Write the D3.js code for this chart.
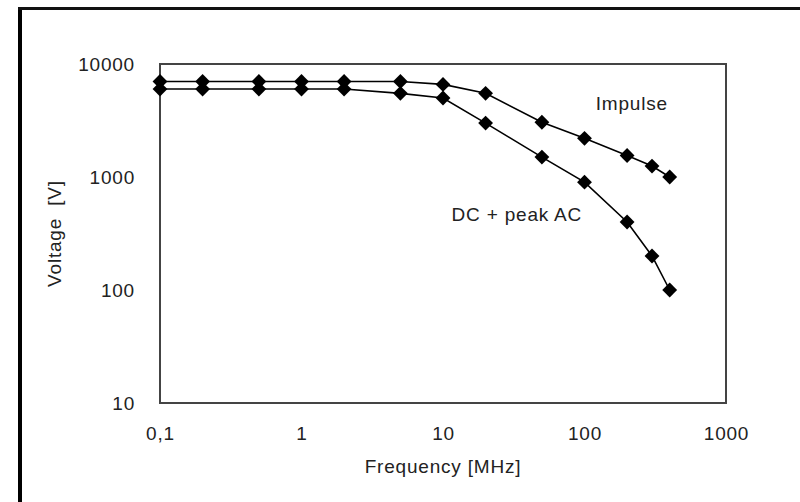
<!DOCTYPE html>
<html><head><meta charset="utf-8">
<script src="https://cdn.jsdelivr.net/npm/d3@7"></script>
<style>body{margin:0;background:#fff}svg{display:block}</style>
</head><body>
<script>
const frequencies = [0.1, 0.2, 0.5, 1, 2, 5, 10, 20, 50, 100, 200, 300, 400];
const impulse = [7000, 7000, 7000, 7000, 7000, 7000, 6600, 5500, 3050, 2200, 1550, 1250, 1000];
const dcPeakAC = [6000, 6000, 6000, 6000, 6000, 5500, 5000, 3000, 1500, 900, 400, 200, 100];
const xTicks = [0.1, 1, 10, 100, 1000];
const xTickLabels = ["0,1", "1", "10", "100", "1000"];
const yTicks = [10, 100, 1000, 10000];
const yTickLabels = ["10", "100", "1000", "10000"];
const annotations = [
  {text: "Impulse", f: 120, v: 4500},
  {text: "DC + peak AC", f: 11.5, v: 470}
];

const W = 800, H = 502;
const m = {l: 160, r: 74, t: 64, b: 99};
const font = "Liberation Sans, Arial, sans-serif";
const fs = 19, ls = "0.8px", ink = "#222";
const svg = d3.select("body").append("svg").attr("width", W).attr("height", H);

// outer frame (left and top visible)
svg.append("line").attr("x1", 20).attr("x2", 20).attr("y1", 7).attr("y2", H).attr("stroke", "#000").attr("stroke-width", 4);
svg.append("line").attr("x1", 18).attr("x2", W).attr("y1", 8.5).attr("y2", 8.5).attr("stroke", "#111").attr("stroke-width", 3);

const x = d3.scaleLog().domain([0.1, 1000]).range([m.l, W - m.r]);
const y = d3.scaleLog().domain([10, 10000]).range([H - m.b, m.t]);

// plot border
svg.append("rect").attr("x", x(0.1)).attr("y", y(10000)).attr("width", x(1000) - x(0.1)).attr("height", y(10) - y(10000))
  .attr("fill", "none").attr("stroke", "#444").attr("stroke-width", 2);

const styleText = sel => sel.attr("font-family", font).attr("font-size", fs).attr("fill", ink).style("letter-spacing", ls);

const xAxis = svg.append("g").attr("transform", `translate(0,${y(10)})`)
  .call(d3.axisBottom(x).tickValues(xTicks).tickSize(0).tickPadding(24).tickFormat((d, i) => xTickLabels[i]));
xAxis.select(".domain").remove();
styleText(xAxis.selectAll("text"));

const yAxis = svg.append("g").attr("transform", `translate(${x(0.1)},0.5)`)
  .call(d3.axisLeft(y).tickValues(yTicks).tickSize(0).tickPadding(25).tickFormat((d, i) => yTickLabels[i]));
yAxis.select(".domain").remove();
styleText(yAxis.selectAll("text"));

// axis titles
styleText(svg.append("text").attr("x", (x(0.1) + x(1000)) / 2).attr("y", 473).attr("text-anchor", "middle").text("Frequency [MHz]"));
styleText(svg.append("text").attr("transform", `translate(61,${(y(10) + y(10000)) / 2}) rotate(-90)`).attr("text-anchor", "middle")
  .attr("xml:space", "preserve").text("Voltage  [V]"));

// series
const series = [impulse, dcPeakAC];
const line = d3.line().x((d, i) => x(frequencies[i])).y(d => y(d));
const diamond = d3.symbol().type(d3.symbolSquare).size(110);
series.forEach(vals => {
  svg.append("path").attr("d", line(vals)).attr("fill", "none").attr("stroke", "#000").attr("stroke-width", 1.6);
  svg.append("g").selectAll("path").data(vals).join("path")
    .attr("d", diamond)
    .attr("transform", (d, i) => `translate(${x(frequencies[i])},${y(d)}) rotate(45)`)
    .attr("fill", "#000");
});

// annotations
styleText(svg.selectAll("text.ann").data(annotations).join("text").attr("class", "ann")
  .attr("x", d => x(d.f)).attr("y", d => y(d.v)).attr("dy", "0.35em").text(d => d.text));
</script>
</body></html>
